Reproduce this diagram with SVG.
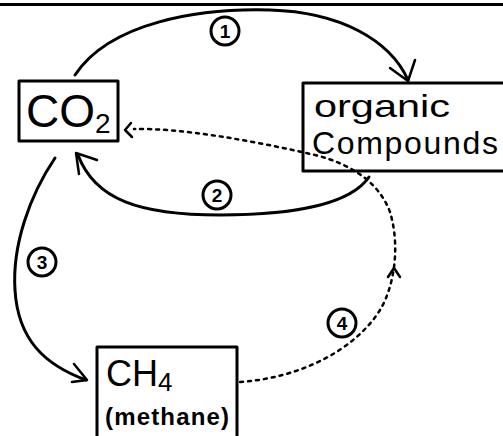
<svg xmlns="http://www.w3.org/2000/svg" width="503" height="436" viewBox="0 0 503 436">
<style>
.box{fill:none;stroke:#000;stroke-width:3;stroke-linejoin:round}
.solid{fill:none;stroke:#000;stroke-width:3;stroke-linecap:round;stroke-linejoin:round}
.dot{fill:none;stroke:#000;stroke-width:2.5;stroke-dasharray:3 5;stroke-linecap:round}
.head{fill:none;stroke:#000;stroke-width:2.5;stroke-linecap:round;stroke-linejoin:round}
.num{fill:none;stroke:#000;stroke-width:3}
.numt{font-family:"Liberation Sans",Arial,sans-serif;font-size:19px;font-weight:bold;text-anchor:middle}
.lbl{font-family:"Liberation Sans",Arial,sans-serif;fill:#000}
</style>
<rect x="0" y="0" width="503" height="436" fill="#fff"/>
<line x1="0" y1="4.5" x2="503" y2="4.5" stroke="#000" stroke-width="3"/>
<g id="connectors">
  <path class="solid" d="M 75 75 C 110 22, 200 8, 270 10 C 340 12, 390 40, 408 80"/>
  <path class="head" d="M 390 68 L 408 81 L 415 60"/>
  <path class="solid" d="M 369 177 C 350 205, 290 215, 220 215 C 140 215, 95 200, 78 155"/>
  <path class="head" d="M 79 174 L 76 153 L 97 160"/>
  <path class="solid" d="M 55 158 C 30 195, 12 245, 15 290 C 18 340, 45 365, 86 380"/>
  <path class="head" d="M 74 364 L 87 380 L 72 382"/>
  <path class="dot" d="M 240 382 C 300 378, 355 350, 380 310 C 395 285, 400 245, 390 212 C 380 185, 355 165, 315 155 C 250 140, 180 128, 134 129"/>
  <path class="head" d="M 388 277 L 394 268 L 400 277"/>
  <path class="head" d="M 131 123 L 125 130 L 132 137"/>
</g>
<g id="label1"><circle class="num" cx="225" cy="31" r="14"/><text class="numt" x="225" y="38">1</text></g>
<g id="label2"><circle class="num" cx="217" cy="195" r="14"/><text class="numt" x="217" y="202">2</text></g>
<g id="label3"><circle class="num" cx="42" cy="262" r="14"/><text class="numt" x="42" y="269">3</text></g>
<g id="label4"><circle class="num" cx="342" cy="323" r="14"/><text class="numt" x="342" y="330">4</text></g>
<g id="co2">
  <rect class="box" x="19" y="81" width="99" height="60"/>
  <text class="lbl" x="26" y="127" font-size="46">CO<tspan font-size="28" dy="6">2</tspan></text>
</g>
<g id="organic">
  <rect class="box" x="303" y="83" width="205" height="88"/>
  <text class="lbl" x="314" y="117" font-size="32" textLength="136" lengthAdjust="spacingAndGlyphs">organic</text>
  <text class="lbl" x="312" y="154" font-size="32" textLength="186">Compounds</text>
</g>
<g id="ch4">
  <rect class="box" x="97" y="347" width="140" height="100"/>
  <text class="lbl" x="106" y="386" font-size="36">CH<tspan font-size="26" dy="5">4</tspan></text>
  <text class="lbl" x="105" y="425" font-size="24" font-weight="bold" textLength="124">(methane)</text>
</g>
</svg>
